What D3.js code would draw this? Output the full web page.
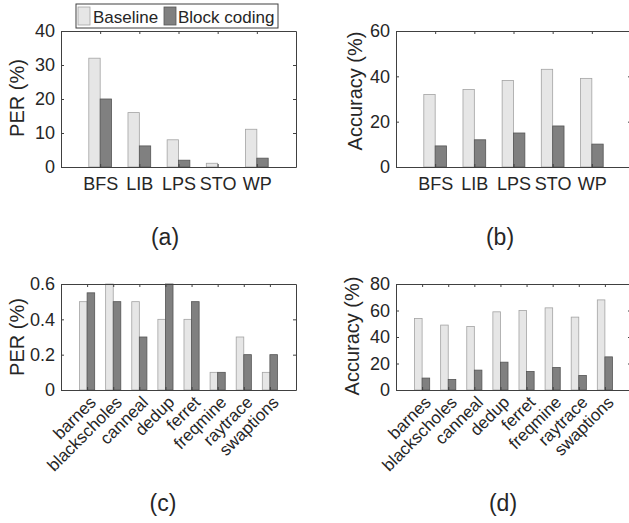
<!DOCTYPE html>
<html lang="en">

<head>
    <meta charset="UTF-8">
    <title>PER and accuracy</title>
    <style>
        body { margin: 0; background: #fff; }
        svg { display: block; font-family: "Liberation Sans", Arial, Helvetica, sans-serif; }
    </style>
</head>

<body>
    <script src="https://cdn.jsdelivr.net/npm/d3@7"></script>
    <script>
        // données
        const catsTop = ['BFS', 'LIB', 'LPS', 'STO', 'WP'];
        const catsBottom = ['barnes', 'blackscholes', 'canneal', 'dedup', 'ferret', 'freqmine', 'raytrace', 'swaptions'];
        const seriesNames = ['Baseline', 'Block coding'];

        const perTopBaseline = [32, 16, 8, 1.1, 11.1];
        const perTopBlock = [20, 6.2, 2, 0, 2.6];
        const accTopBaseline = [32, 34.2, 38.2, 43.1, 39.1];
        const accTopBlock = [9.3, 12, 15, 18.1, 10.1];

        const perBotBaseline = [0.5, 0.6, 0.5, 0.4, 0.4, 0.1, 0.3, 0.1];
        const perBotBlock = [0.55, 0.5, 0.3, 0.6, 0.5, 0.1, 0.2, 0.2];
        const accBotBaseline = [54, 49, 48, 59, 60, 62, 55, 68];
        const accBotBlock = [9, 8, 15, 21, 14, 17, 11, 25];

        const yTicksPerTop = [0, 10, 20, 30, 40];
        const yTicksAccTop = [0, 20, 40, 60];
        const yTicksPerBot = [0, 0.2, 0.4, 0.6];
        const yTicksAccBot = [0, 20, 40, 60, 80];

        const couleurs = ['#e6e6e6', '#808080'];
        const bords = ['#a3a3a3', '#555555'];
        const encre = '#262626';

        const svg = d3.select('body').append('svg')
            .attr('width', 629)
            .attr('height', 523);

        svg.append('rect').attr('width', 629).attr('height', 523).attr('fill', '#fff');

        // un panneau = un graphique à barres groupées
        function panneau(opt) {
            const larg = 235;
            const x = d3.scaleLinear()
                .domain([0, opt.cats.length + 1])
                .range([opt.left, opt.left + larg]);
            const y = d3.scaleLinear()
                .domain([0, d3.max(opt.yTicks)])
                .range([opt.bottom, opt.top]);
            const bw = 0.29;
            const g = svg.append('g');

            // barres
            [opt.base, opt.block].forEach((serie, s) => {
                g.append('g').selectAll('rect')
                    .data(serie)
                    .join('rect')
                    .attr('x', (d, i) => s === 0 ? x(i + 1 - bw) : x(i + 1))
                    .attr('width', x(bw) - x(0))
                    .attr('y', d => y(d))
                    .attr('height', d => y(0) - y(d))
                    .attr('fill', couleurs[s])
                    .attr('stroke', d => d > 0 ? bords[s] : 'none')
                    .attr('stroke-width', 0.8);
            });

            const cadre = (taille) => (sel) => {
                sel.select('.domain').attr('stroke', '#404040').attr('stroke-width', 1);
                sel.selectAll('.tick line').attr('stroke', '#404040');
                sel.selectAll('text').attr('fill', encre).attr('font-size', taille)
                    .attr('font-family', '"Liberation Sans", Arial, Helvetica, sans-serif');
            };

            // axe gauche
            g.append('g')
                .attr('transform', `translate(${opt.left},0)`)
                .call(d3.axisLeft(y).tickValues(opt.yTicks).tickFormat(d3.format('~g'))
                    .tickSizeInner(-3).tickSizeOuter(0).tickPadding(6))
                .call(cadre(18));
            // axe droit (boîte)
            g.append('g')
                .attr('transform', `translate(${opt.left + larg},0)`)
                .call(d3.axisRight(y).tickValues(opt.yTicks).tickSizeInner(-3).tickSizeOuter(0).tickFormat(''))
                .call(cadre(18));
            // axe haut (boîte)
            g.append('g')
                .attr('transform', `translate(0,${opt.top})`)
                .call(d3.axisTop(x).tickValues(d3.range(1, opt.cats.length + 1)).tickSizeInner(-3).tickSizeOuter(0).tickFormat(''))
                .call(cadre(18));
            // axe bas
            const bas = g.append('g')
                .attr('transform', `translate(0,${opt.bottom})`)
                .call(d3.axisBottom(x).tickValues(d3.range(1, opt.cats.length + 1))
                    .tickSizeInner(-3).tickSizeOuter(0).tickPadding(10)
                    .tickFormat(i => opt.cats[i - 1]))
                .call(cadre(opt.rotate ? 17 : 18));

            if (opt.rotate) {
                bas.selectAll('.tick text')
                    .attr('y', null)
                    .attr('dy', '0.78em')
                    .attr('text-anchor', 'end')
                    .attr('transform', 'translate(0,4) rotate(-45)');
            }

            // titre de l'axe y
            svg.append('text')
                .attr('transform', `translate(${opt.ylabX},${opt.ylabY}) rotate(-90)`)
                .attr('text-anchor', 'middle')
                .attr('dy', '0.35em')
                .attr('font-size', 20)
                .attr('fill', encre)
                .text(opt.ylabel);

            // sous-titre (a), (b)...
            svg.append('text')
                .attr('x', opt.subX)
                .attr('y', opt.subY)
                .attr('text-anchor', 'middle')
                .attr('font-size', 23)
                .attr('fill', encre)
                .text(opt.sub);
        }

        panneau({ cats: catsTop, base: perTopBaseline, block: perTopBlock, yTicks: yTicksPerTop,
            left: 61, top: 31, bottom: 167, ylabel: 'PER (%)', ylabX: 17, ylabY: 98,
            sub: '(a)', subX: 165, subY: 245 });
        panneau({ cats: catsTop, base: accTopBaseline, block: accTopBlock, yTicks: yTicksAccTop,
            left: 396, top: 31, bottom: 167, ylabel: 'Accuracy (%)', ylabX: 355, ylabY: 91,
            sub: '(b)', subX: 500, subY: 245 });
        panneau({ cats: catsBottom, base: perBotBaseline, block: perBotBlock, yTicks: yTicksPerBot,
            left: 61, top: 284, bottom: 390, ylabel: 'PER (%)', ylabX: 17, ylabY: 337, rotate: true,
            sub: '(c)', subX: 163, subY: 511 });
        panneau({ cats: catsBottom, base: accBotBaseline, block: accBotBlock, yTicks: yTicksAccBot,
            left: 396, top: 284, bottom: 390, ylabel: 'Accuracy (%)', ylabX: 352, ylabY: 336, rotate: true,
            sub: '(d)', subX: 503, subY: 511 });

        // légende
        const leg = svg.append('g');
        leg.append('rect')
            .attr('x', 76).attr('y', 4).attr('width', 202).attr('height', 24)
            .attr('fill', '#fff').attr('stroke', '#404040').attr('stroke-width', 1);
        const legX = [78, 164];
        const legTxt = [93, 178];
        leg.selectAll('rect.sw')
            .data(seriesNames)
            .join('rect')
            .attr('class', 'sw')
            .attr('x', (d, i) => legX[i])
            .attr('y', 7)
            .attr('width', 12)
            .attr('height', 18)
            .attr('fill', (d, i) => couleurs[i])
            .attr('stroke', (d, i) => bords[i])
            .attr('stroke-width', 0.8);
        leg.selectAll('text')
            .data(seriesNames)
            .join('text')
            .attr('x', (d, i) => legTxt[i])
            .attr('y', 23)
            .attr('font-size', 17)
            .attr('fill', encre)
            .text(d => d);
    </script>
</body>

</html>
